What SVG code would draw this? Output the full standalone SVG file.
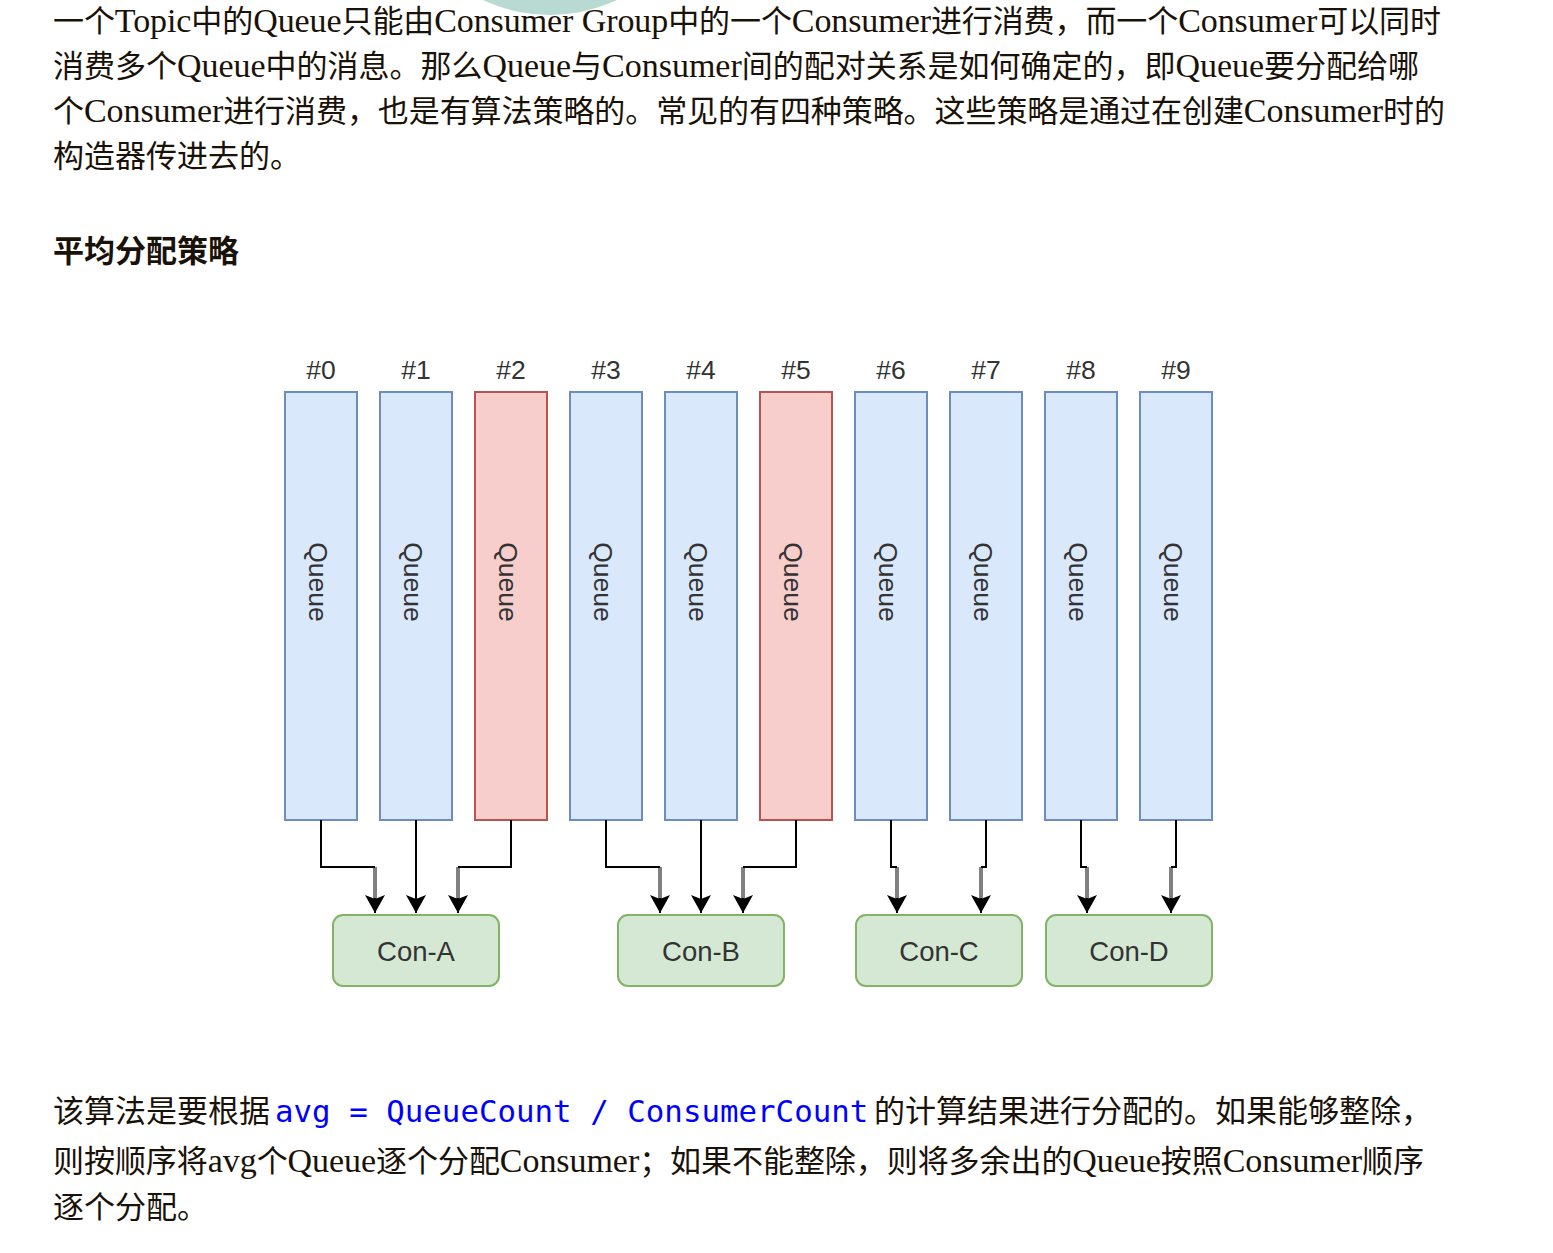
<svg xmlns="http://www.w3.org/2000/svg" width="1553" height="1253" viewBox="0 0 1553 1253">
<style>
.p{font-family:"Liberation Serif","Noto Sans CJK SC",serif;font-size:31px;fill:#1a1208}
.l{font-size:34px}
.h{font-family:"Noto Sans CJK SC",sans-serif;font-size:31px;font-weight:bold;fill:#1a1208}
.code{font-family:"DejaVu Sans Mono","Liberation Mono",monospace;font-size:30.8px;fill:#0000ff}
.q{fill:#dae8fc;stroke:#6c8ebf;stroke-width:2}
.qr{fill:#f8cecc;stroke:#b85450;stroke-width:2}
.num{font-family:"Liberation Sans",Arial,sans-serif;font-size:26.5px;fill:#333;text-anchor:middle}
.ql{font-family:"Liberation Sans",Arial,sans-serif;font-size:26.5px;fill:#333;text-anchor:middle;dominant-baseline:central}
.c{fill:#d5e8d4;stroke:#82b366;stroke-width:2}
.cl{font-family:"Liberation Sans",Arial,sans-serif;font-size:27.5px;fill:#333;text-anchor:middle;dominant-baseline:central}
.e{fill:none;stroke:#000;stroke-width:2}
.g{fill:none;stroke:#808080;stroke-width:4}
</style>
<defs>
<marker id="ah" markerWidth="18" markerHeight="20" refX="18" refY="10" orient="auto" markerUnits="userSpaceOnUse" viewBox="0 0 18 20">
<path d="M0,0 L18,10 L0,20 L4,10 Z" fill="#000"/>
</marker>
</defs>
<rect width="1553" height="1253" fill="#fff"/>
<circle cx="550" cy="-142" r="157" fill="#b9d9d3"/>
<g id="intro">
<text class="p" x="53" y="32" textLength="1388" lengthAdjust="spacing">一个<tspan class="l">Topic</tspan>中的<tspan class="l">Queue</tspan>只能由<tspan class="l">Consumer Group</tspan>中的一个<tspan class="l">Consumer</tspan>进行消费，而一个<tspan class="l">Consumer</tspan>可以同时</text>
<text class="p" x="53" y="77" textLength="1366" lengthAdjust="spacing">消费多个<tspan class="l">Queue</tspan>中的消息。那么<tspan class="l">Queue</tspan>与<tspan class="l">Consumer</tspan>间的配对关系是如何确定的，即<tspan class="l">Queue</tspan>要分配给哪</text>
<text class="p" x="53" y="122" textLength="1392" lengthAdjust="spacing">个<tspan class="l">Consumer</tspan>进行消费，也是有算法策略的。常见的有四种策略。这些策略是通过在创建<tspan class="l">Consumer</tspan>时的</text>
<text class="p" x="53" y="167">构造器传进去的。</text>
</g>
<text class="h" x="53" y="262">平均分配策略</text>
<g id="labels">
<text class="num" x="321" y="379">#0</text>
<text class="num" x="416" y="379">#1</text>
<text class="num" x="511" y="379">#2</text>
<text class="num" x="606" y="379">#3</text>
<text class="num" x="701" y="379">#4</text>
<text class="num" x="796" y="379">#5</text>
<text class="num" x="891" y="379">#6</text>
<text class="num" x="986" y="379">#7</text>
<text class="num" x="1081" y="379">#8</text>
<text class="num" x="1176" y="379">#9</text>
</g>
<g id="q0"><rect class="q" x="285" y="392" width="72" height="428"/><text class="ql" transform="translate(318,582) rotate(90)">Queue</text></g>
<g id="q1"><rect class="q" x="380" y="392" width="72" height="428"/><text class="ql" transform="translate(413,582) rotate(90)">Queue</text></g>
<g id="q2"><rect class="qr" x="475" y="392" width="72" height="428"/><text class="ql" transform="translate(508,582) rotate(90)">Queue</text></g>
<g id="q3"><rect class="q" x="570" y="392" width="72" height="428"/><text class="ql" transform="translate(603,582) rotate(90)">Queue</text></g>
<g id="q4"><rect class="q" x="665" y="392" width="72" height="428"/><text class="ql" transform="translate(698,582) rotate(90)">Queue</text></g>
<g id="q5"><rect class="qr" x="760" y="392" width="72" height="428"/><text class="ql" transform="translate(793,582) rotate(90)">Queue</text></g>
<g id="q6"><rect class="q" x="855" y="392" width="72" height="428"/><text class="ql" transform="translate(888,582) rotate(90)">Queue</text></g>
<g id="q7"><rect class="q" x="950" y="392" width="72" height="428"/><text class="ql" transform="translate(983,582) rotate(90)">Queue</text></g>
<g id="q8"><rect class="q" x="1045" y="392" width="72" height="428"/><text class="ql" transform="translate(1078,582) rotate(90)">Queue</text></g>
<g id="q9"><rect class="q" x="1140" y="392" width="72" height="428"/><text class="ql" transform="translate(1173,582) rotate(90)">Queue</text></g>
<g id="conA"><rect class="c" x="333" y="915" width="166" height="71" rx="10"/><text class="cl" x="416" y="951">Con-A</text></g>
<g id="conB"><rect class="c" x="618" y="915" width="166" height="71" rx="10"/><text class="cl" x="701" y="951">Con-B</text></g>
<g id="conC"><rect class="c" x="856" y="915" width="166" height="71" rx="10"/><text class="cl" x="939" y="951">Con-C</text></g>
<g id="conD"><rect class="c" x="1046" y="915" width="166" height="71" rx="10"/><text class="cl" x="1129" y="951">Con-D</text></g>
<g id="connectors">
<path class="g" d="M375,867 V900"/><path class="e" d="M321,820 V867 H375"/><path class="e" d="M375,898 V913" marker-end="url(#ah)"/>
<path class="e" d="M416,820 V913" marker-end="url(#ah)"/>
<path class="g" d="M458,867 V900"/><path class="e" d="M511,820 V867 H458"/><path class="e" d="M458,898 V913" marker-end="url(#ah)"/>
<path class="g" d="M660,867 V900"/><path class="e" d="M606,820 V867 H660"/><path class="e" d="M660,898 V913" marker-end="url(#ah)"/>
<path class="e" d="M701,820 V913" marker-end="url(#ah)"/>
<path class="g" d="M743,867 V900"/><path class="e" d="M796,820 V867 H743"/><path class="e" d="M743,898 V913" marker-end="url(#ah)"/>
<path class="g" d="M897,867 V900"/><path class="e" d="M891,820 V867 H897"/><path class="e" d="M897,898 V913" marker-end="url(#ah)"/>
<path class="g" d="M981,867 V900"/><path class="e" d="M986,820 V867 H981"/><path class="e" d="M981,898 V913" marker-end="url(#ah)"/>
<path class="g" d="M1087,867 V900"/><path class="e" d="M1081,820 V867 H1087"/><path class="e" d="M1087,898 V913" marker-end="url(#ah)"/>
<path class="g" d="M1171,867 V900"/><path class="e" d="M1176,820 V867 H1171"/><path class="e" d="M1171,898 V913" marker-end="url(#ah)"/>
</g>
<g id="outro">
<text class="p" x="53" y="1122">该算法是要根据<tspan class="code" x="275">avg = QueueCount / ConsumerCount</tspan><tspan x="874">的计算结果进行分配的。如果能够整除，</tspan></text>
<text class="p" x="53" y="1172" textLength="1371" lengthAdjust="spacing">则按顺序将<tspan class="l">avg</tspan>个<tspan class="l">Queue</tspan>逐个分配<tspan class="l">Consumer</tspan>；如果不能整除，则将多余出的<tspan class="l">Queue</tspan>按照<tspan class="l">Consumer</tspan>顺序</text>
<text class="p" x="53" y="1218">逐个分配。</text>
</g>
</svg>
